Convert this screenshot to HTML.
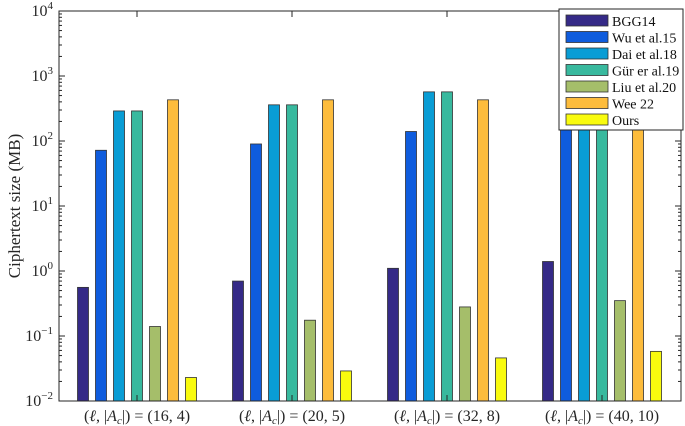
<!DOCTYPE html>
<html><head><meta charset="utf-8"><style>
body{margin:0;background:#fff}
svg{display:block;font-family:"Liberation Serif",serif}
</style></head><body>
<svg id="chart" width="685" height="426"></svg>
<script>
const categories=["(16, 4)","(20, 5)","(32, 8)","(40, 10)"];
const seriesNames=["BGG14","Wu et al.15","Dai et al.18","Gür er al.19","Liu et al.20","Wee 22","Ours"];
const bgg14=[0.56,0.7,1.1,1.4];
const wu15=[72,90,140,180];
const dai18=[290,360,570,720];
const gur19=[290,360,570,720];
const liu20=[0.14,0.175,0.28,0.35];
const wee22=[430,430,430,430];
const ours=[0.023,0.029,0.046,0.058];
const yTickExps=[-2,-1,0,1,2,3,4];
const series=[bgg14,wu15,dai18,gur19,liu20,wee22,ours];
const colors=["#352a87","#0f5cdd","#099dd5","#38b99e","#a5be6a","#fdbc3c","#f9fb0e"];
const NS="http://www.w3.org/2000/svg";
const svg=document.getElementById('chart');
const L=59,R=681,T=11,B=401;
const yMin=-2,yMax=4;
function y(v){return B-(Math.log10(v)-yMin)/(yMax-yMin)*(B-T);}
const barStep=18,barW=11;
function mk(tag,attrs,parent){const e=document.createElementNS(NS,tag);for(const k in attrs)e.setAttribute(k,attrs[k]);(parent||svg).appendChild(e);return e;}
series.forEach((arr,s)=>{arr.forEach((v,i)=>{
  const cx=L+78+i*155+(s-3)*barStep;
  const r=mk('rect',{x:cx-barW/2,y:y(v),width:barW,height:B-y(v),fill:colors[s],stroke:'#333','stroke-width':0.8});
  
  
});});
const box=mk('rect',{x:L,y:T,width:R-L,height:B-T,fill:'none',stroke:'#262626','stroke-width':1});


yTickExps.forEach(e=>{
  const yy=y(Math.pow(10,e));
  mk('line',{x1:L,x2:L+6,y1:yy,y2:yy,stroke:'#262626'});
  mk('line',{x1:R,x2:R-6,y1:yy,y2:yy,stroke:'#262626'});
  const t=mk('text',{x:L-6,y:yy+5,'text-anchor':'end','font-size':16,fill:'#262626'});
  
  
  t.textContent='10';
  const s=mk('tspan',{dy:-7,'font-size':11},t);s.textContent=String(e).replace('-','−');
  if(e<yMax)for(let m=2;m<10;m++){const my=y(m*Math.pow(10,e));
    mk('line',{x1:L,x2:L+3,y1:my,y2:my,stroke:'#262626'});
    mk('line',{x1:R,x2:R-3,y1:my,y2:my,stroke:'#262626'});}
});
categories.forEach((c,i)=>{
  const cx=L+78+i*155;
  mk('line',{x1:cx,x2:cx,y1:B,y2:B-6,stroke:'#262626'});
  mk('line',{x1:cx,x2:cx,y1:T,y2:T+6,stroke:'#262626'});
  const t=mk('text',{x:cx,y:B+20,'text-anchor':'middle','font-size':16,fill:'#262626'});
  
  
  t.innerHTML='(<tspan font-style="italic">ℓ</tspan>, |<tspan font-style="italic">A</tspan><tspan font-size="11" font-style="italic" dy="3">c</tspan><tspan dy="-3">|) = '+c+'</tspan>';
});
const yt=mk('text',{x:0,y:0,transform:'translate(20,206) rotate(-90)','text-anchor':'middle','font-size':17,fill:'#262626'});


yt.textContent='Ciphertext size (MB)';
const lg=mk('g',{});


mk('rect',{x:559,y:9,width:124,height:121,fill:'#fff',stroke:'#262626','stroke-width':1},lg);
seriesNames.forEach((n,s)=>{
  const yy=15+s*16.5;
  const g=mk('g',{},lg);
  
  
  mk('rect',{x:566,y:yy,width:42,height:11,fill:colors[s],stroke:'#333','stroke-width':0.8},g);
  const t=mk('text',{x:612,y:yy+11,'font-size':14,fill:'#111'},g);t.textContent=n;
});
</script>
</body></html>
